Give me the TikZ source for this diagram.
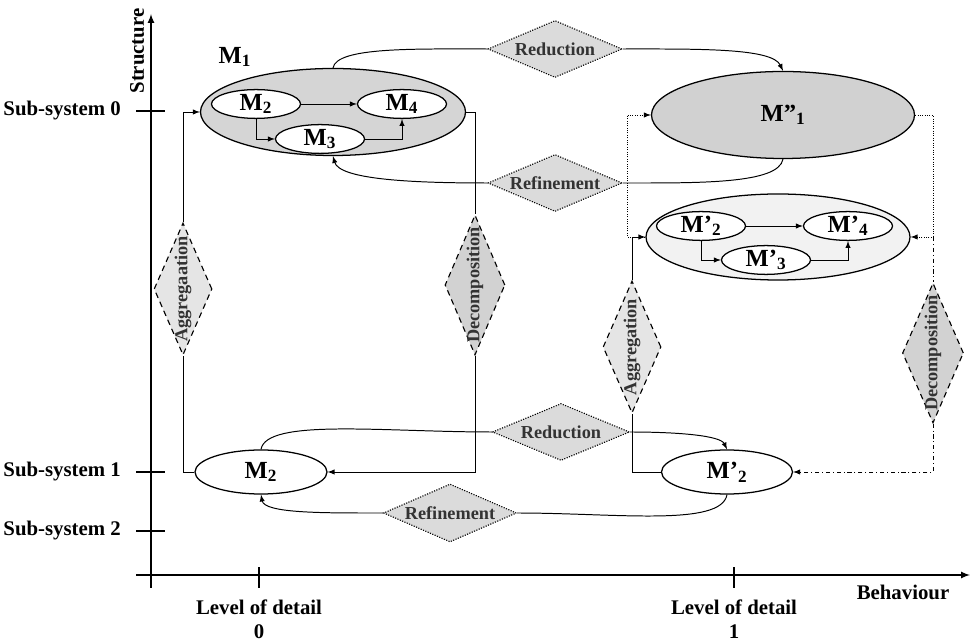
\documentclass[tikz,border=0pt]{standalone}
\usepackage{fontspec}
\setmainfont{Liberation Serif}
\usetikzlibrary{shapes.geometric}
\tikzset{axislabel/.style={font=\fontsize{14.8}{17}\selectfont\bfseries}}
\tikzset{model/.style={draw,ellipse,line width=0.9pt,inner sep=0pt,
                       font=\fontsize{17.5}{20}\selectfont\bfseries}}
\tikzset{submodel/.style={model,fill=white,minimum width=2.225cm,minimum height=0.72cm}}
\tikzset{operation/.style={draw,diamond,inner sep=0pt,text=black!80,line width=0.8pt,
                       font=\fontsize{13}{15}\selectfont\bfseries}}
\tikzset{behav/.style={operation,densely dotted,fill=gray!28,aspect=2.35,
                       minimum width=3.35cm,minimum height=1.425cm}}
\tikzset{struct/.style={operation,dash pattern=on 4pt off 3pt,minimum width=1.45cm,minimum height=3.3cm}}
\newcommand{\vertlabel}[1]{\rotatebox{90}{\makebox[0pt]{#1}}}

\begin{document}
\begin{tikzpicture}[x=0.25cm,y=0.25cm,>=latex,line width=0.7pt]
    \useasboundingbox (0,0) rectangle (97,64.2);

    % axes
    \coordinate (ybot) at (15.1,5.4);
    \coordinate (ytop) at (15.1,62.8);
    \coordinate (xleft) at (13.6,6.7);
    \coordinate (xright) at (97,6.7);
    \draw[line width=1.2pt,->] (ybot) -- (ytop);
    \draw[line width=1.2pt,->] (xleft) -- (xright);
    \node[axislabel,rotate=90] (structure) at (13.7,59.1) {Structure};
    \node[axislabel] (behaviour) at (90.3,5.0) {Behaviour};
    % sub-systems
    \foreach \y/\n in {53.1/0,17.0/1,11.1/2}{
        \draw[line width=1.2pt] (13.6,\y) -- (16.5,\y);
        \node[axislabel,anchor=east] (sub\n) at (12.6,\y) {Sub-system \n};
    }
    % levels of detail
    \foreach \x/\n in {25.9/0,73.4/1}{
        \draw[line width=0.9pt] (\x,5.4) -- (\x,7.5);
        \node[axislabel,align=center] (lod\n) at (\x,2.3) {Level of detail\\\n};
    }

    % model M1 with its parts
    \node[model,fill=gray!33,minimum width=6.625cm,minimum height=2.175cm] (m1) at (33.3,53.0) {};
    \node[submodel] (m12) at (25.6,53.8) {M\textsubscript{2}};
    \node[submodel] (m14) at (40.2,53.8) {M\textsubscript{4}};
    \node[submodel] (m13) at (32.0,50.3) {M\textsubscript{3}};
    \node[font=\fontsize{17.5}{20}\selectfont\bfseries] (m1name) at (23.5,58.5) {M\textsubscript{1}};
    \draw[->] (m12.east) -- (m14.west);
    \draw[->] (m12.south) |- (m13.west);
    \draw[->] (m13.east) -| (m14.south);

    % reduced model M''1
    \node[model,fill=gray!36,minimum width=6.575cm,minimum height=2.175cm] (m1pp) at (78.3,52.7) {M''\textsubscript{1}};

    % model M'1 with its parts
    \node[model,fill=gray!10,minimum width=6.6cm,minimum height=2.15cm] (mp) at (77.8,40.5) {};
    \node[submodel] (mp2) at (70.1,41.6) {M'\textsubscript{2}};
    \node[submodel] (mp4) at (84.8,41.6) {M'\textsubscript{4}};
    \node[submodel] (mp3) at (76.6,38.2) {M'\textsubscript{3}};
    \draw[->] (mp2.east) -- (mp4.west);
    \draw[->] (mp2.south) |- (mp3.west);
    \draw[->] (mp3.east) -| (mp4.south);

    % models of sub-system 1
    \node[model,minimum width=3.3cm,minimum height=1.1cm] (m2b) at (26.1,17.0) {M\textsubscript{2}};
    \node[model,minimum width=3.275cm,minimum height=1.1cm] (mp2b) at (72.7,17.0) {M'\textsubscript{2}};

    % reduction / refinement
    \node[behav] (red0) at (55.5,59.3) {Reduction};
    \node[behav] (ref0) at (55.5,45.9) {Refinement};
    \node[behav,minimum width=3.425cm] (red1) at (56.1,21.0) {Reduction};
    \node[behav,minimum width=3.325cm,minimum height=1.45cm] (ref1) at (45.0,12.9) {Refinement};

    \draw (m1.north) to[out=80,in=180,out looseness=0.35,in looseness=1.2] (red0.west);
    \draw[->] (red0.east) to[out=0,in=115,out looseness=1.2,in looseness=0.4] (m1pp.north);
    \draw (m1pp.south) to[out=-100,in=0,out looseness=0.4,in looseness=1.2] (ref0.east);
    \draw[->] (ref0.west) to[out=180,in=-75,out looseness=1.2,in looseness=0.4] (m1.south);

    \draw (m2b.north) to[out=80,in=180,out looseness=0.35,in looseness=1.2] (red1.west);
    \draw[->] (red1.east) to[out=0,in=115,out looseness=1.2,in looseness=0.4] (mp2b.north);
    \draw (mp2b.south) to[out=-100,in=0,out looseness=0.4,in looseness=1.2] (ref1.east);
    \draw[->] (ref1.west) to[out=180,in=-80,out looseness=1.2,in looseness=0.4] (m2b.south);

    % aggregation / decomposition
    \node[struct,fill=gray!20] (agg0) at (18.3,35.3) {\vertlabel{Aggregaation}};
    \node[struct,fill=gray!35,minimum width=1.5cm,minimum height=3.5cm] (dec0) at (47.5,35.7) {\vertlabel{Decomposition}};
    \node[struct,fill=gray!20] (agg1) at (63.2,29.5) {\vertlabel{Aggregation}};
    \node[struct,fill=gray!35,minimum width=1.525cm,minimum height=3.5cm] (dec1) at (93.3,28.9) {\vertlabel{Decomposition}};

    \draw (m2b.west) -| (agg0.south);
    \draw[->] (agg0.north) |- (m1.west);
    \draw (m1.east) -| (dec0.north);
    \draw[->] (dec0.south) |- (m2b.east);

    \draw (mp2b.west) -| (agg1.south);
    \draw[->] (agg1.north) |- (mp.west);
    \coordinate (dr) at (mp.east -| dec1.north);
    \draw[dash dot] (dr) -- (dec1.north);
    \draw[dash dot,->] (dec1.south) |- (mp2b.east);

    % M'1 <-> M''1
    \coordinate (dl) at (62.7,40.5);
    \draw[densely dotted,->] (mp.west) -- (dl) |- (m1pp.west);
    \draw[densely dotted,->] (m1pp.east) -| (dr) -- (mp.east);
\end{tikzpicture}
\end{document}
